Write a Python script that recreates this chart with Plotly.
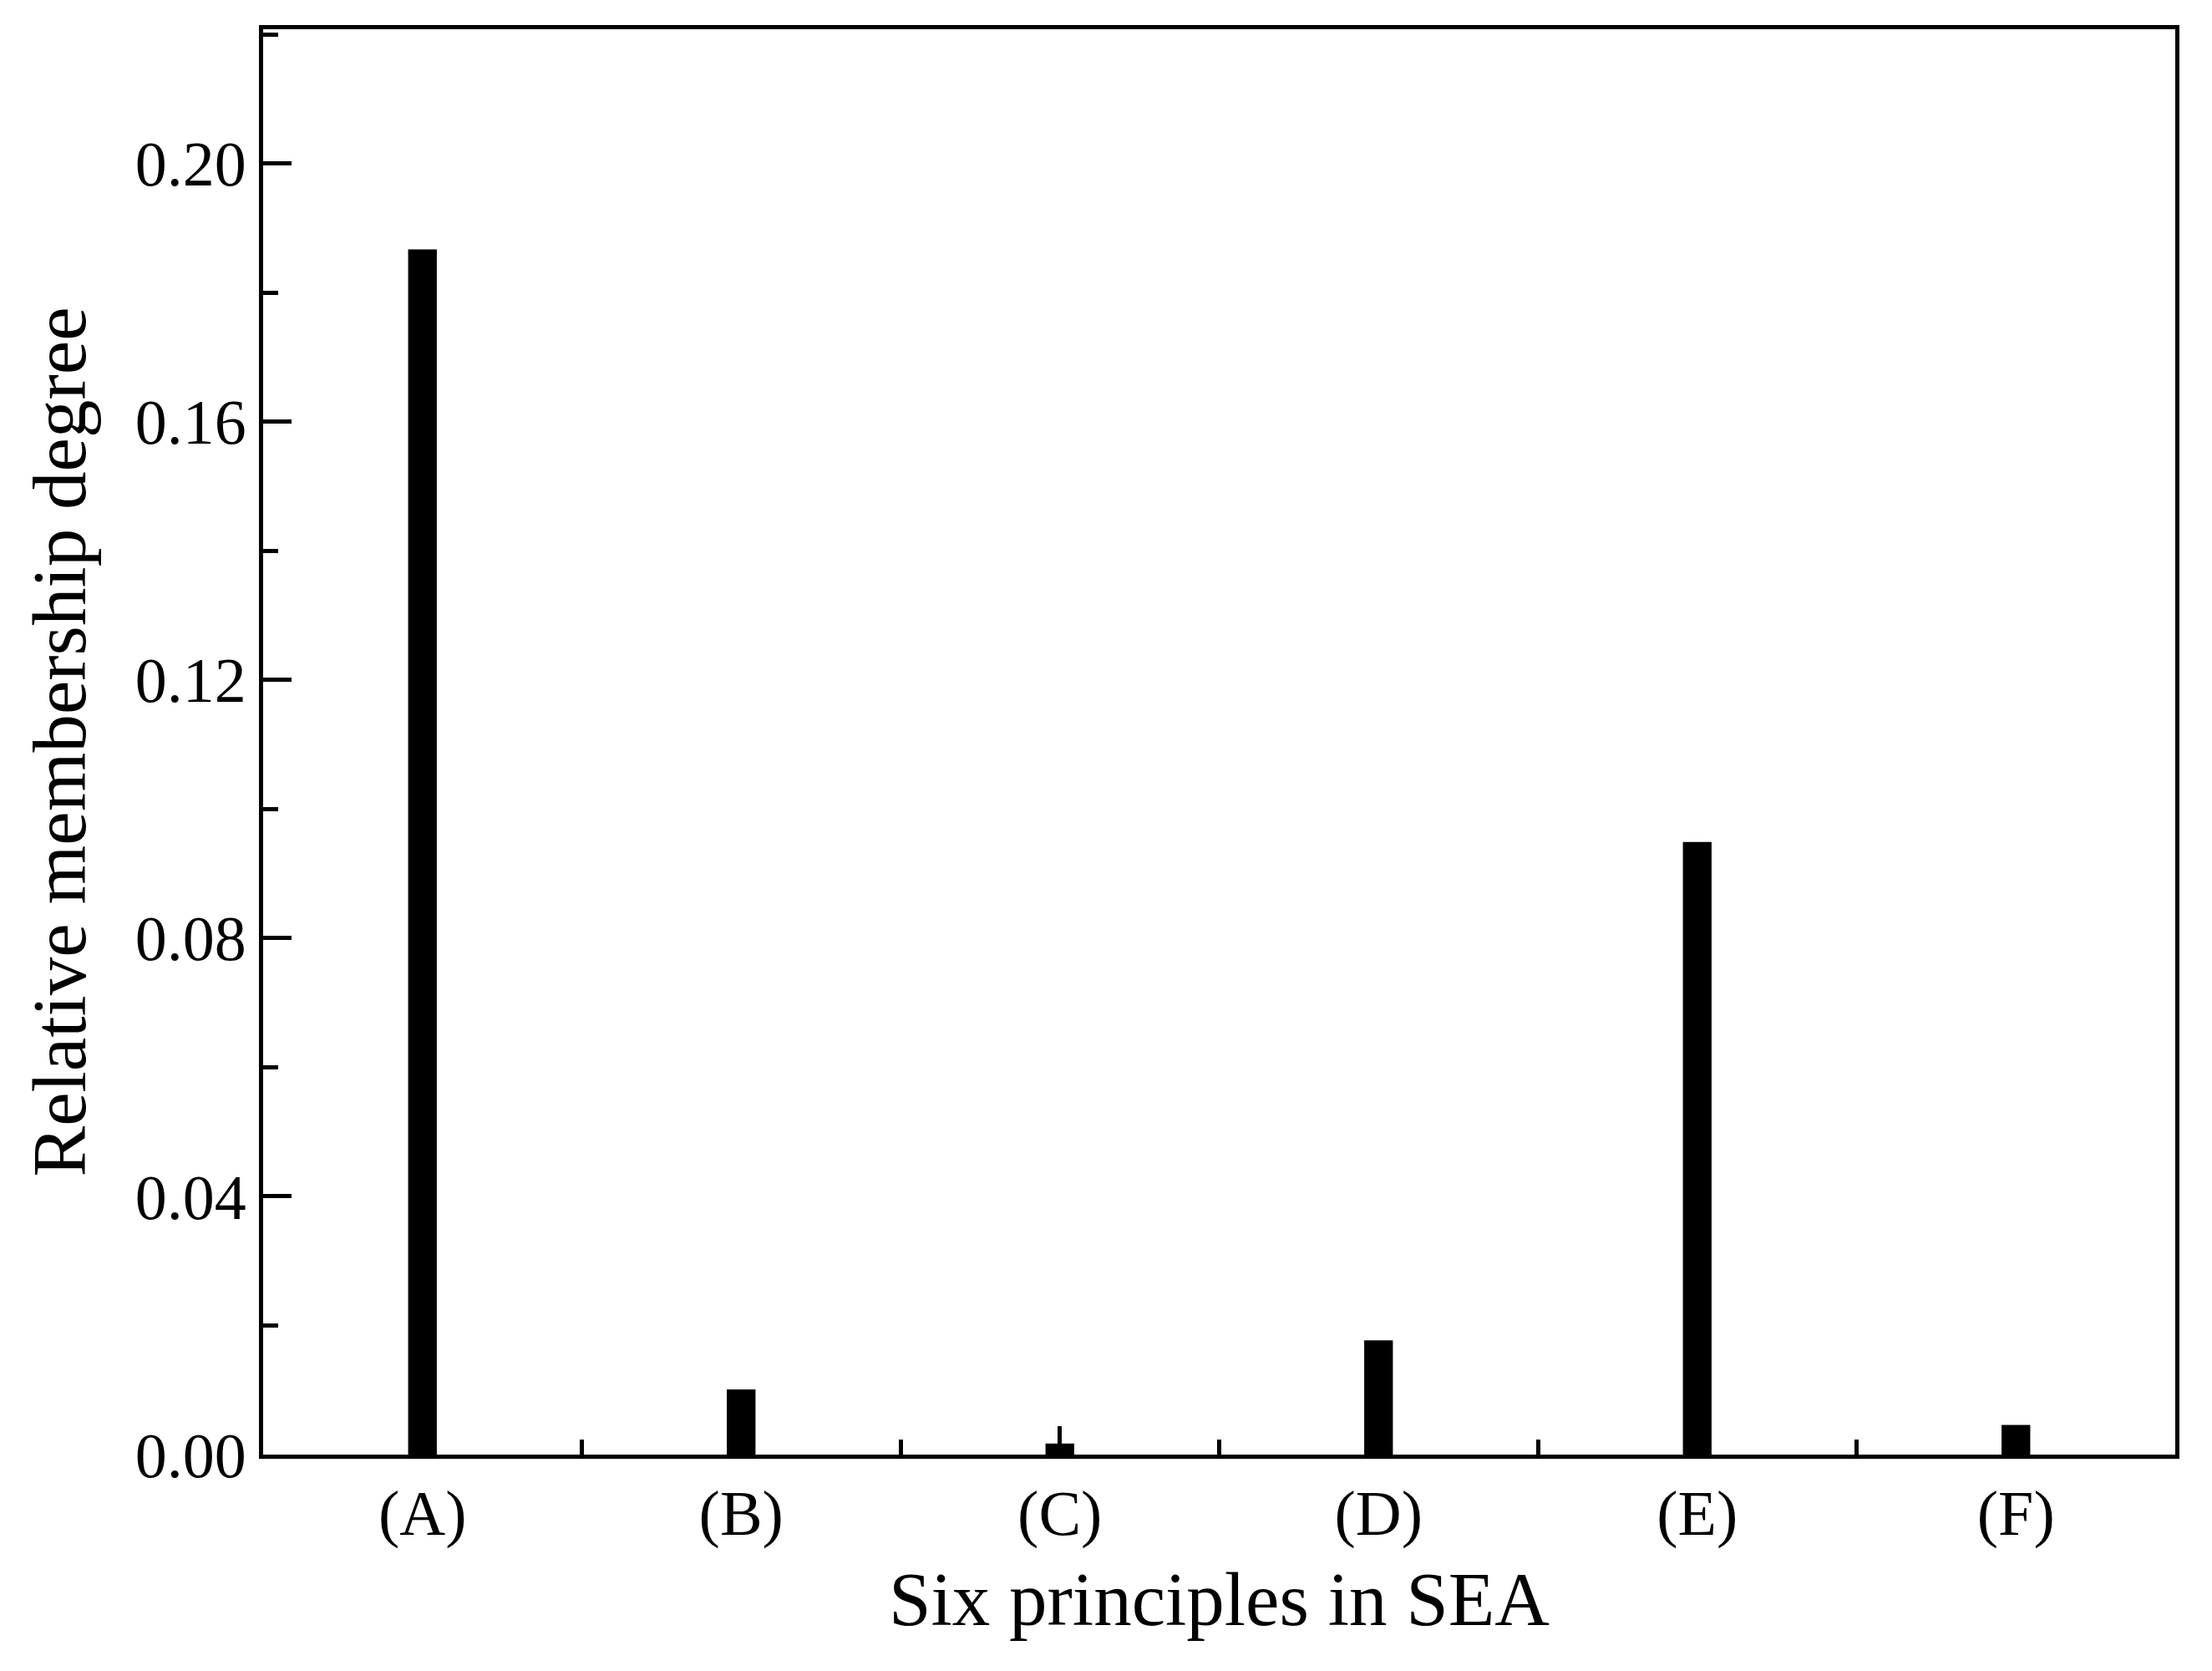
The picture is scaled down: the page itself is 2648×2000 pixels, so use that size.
import plotly.graph_objects as go

categories = ["(A)", "(B)", "(C)", "(D)", "(E)", "(F)"]
membership = [0.1867, 0.0101, 0.0017, 0.0177, 0.0949, 0.0046]

fnt = "Liberation Serif, Times New Roman, serif"

fig = go.Figure(go.Bar(
    x=list(range(len(categories))),
    y=membership,
    width=0.09,
    marker=dict(color="black", line=dict(width=0)),
))

fig.update_layout(
    width=2648, height=2000,
    paper_bgcolor="white", plot_bgcolor="white",
    margin=dict(l=307, r=52, t=27, b=267),
    font=dict(family=fnt, size=76, color="black"),
    showlegend=False,
)
fig.update_xaxes(
    range=[-0.5, 5.5],
    tickmode="array", tickvals=list(range(len(categories))), ticktext=categories,
    ticks="inside", ticklen=34, tickwidth=5, tickcolor="black",
    minor=dict(tickmode="linear", tick0=0.5, dtick=1, ticks="inside",
               ticklen=18, tickwidth=5, tickcolor="black"),
    showline=True, linewidth=5, linecolor="black", mirror=True,
    showgrid=False, zeroline=False,
    title=dict(text="Six principles in SEA", standoff=30),
)
fig.update_yaxes(
    range=[0, 0.2208], tick0=0, dtick=0.04, tickformat=".2f",
    ticks="inside", ticklen=34, tickwidth=5, tickcolor="black",
    minor=dict(dtick=0.02, tick0=0, ticks="inside",
               ticklen=18, tickwidth=5, tickcolor="black"),
    showline=True, linewidth=5, linecolor="black", mirror=True,
    showgrid=False, zeroline=False,
    title=dict(text="Relative membership degree", standoff=30),
)

fig.write_html("out.html")
